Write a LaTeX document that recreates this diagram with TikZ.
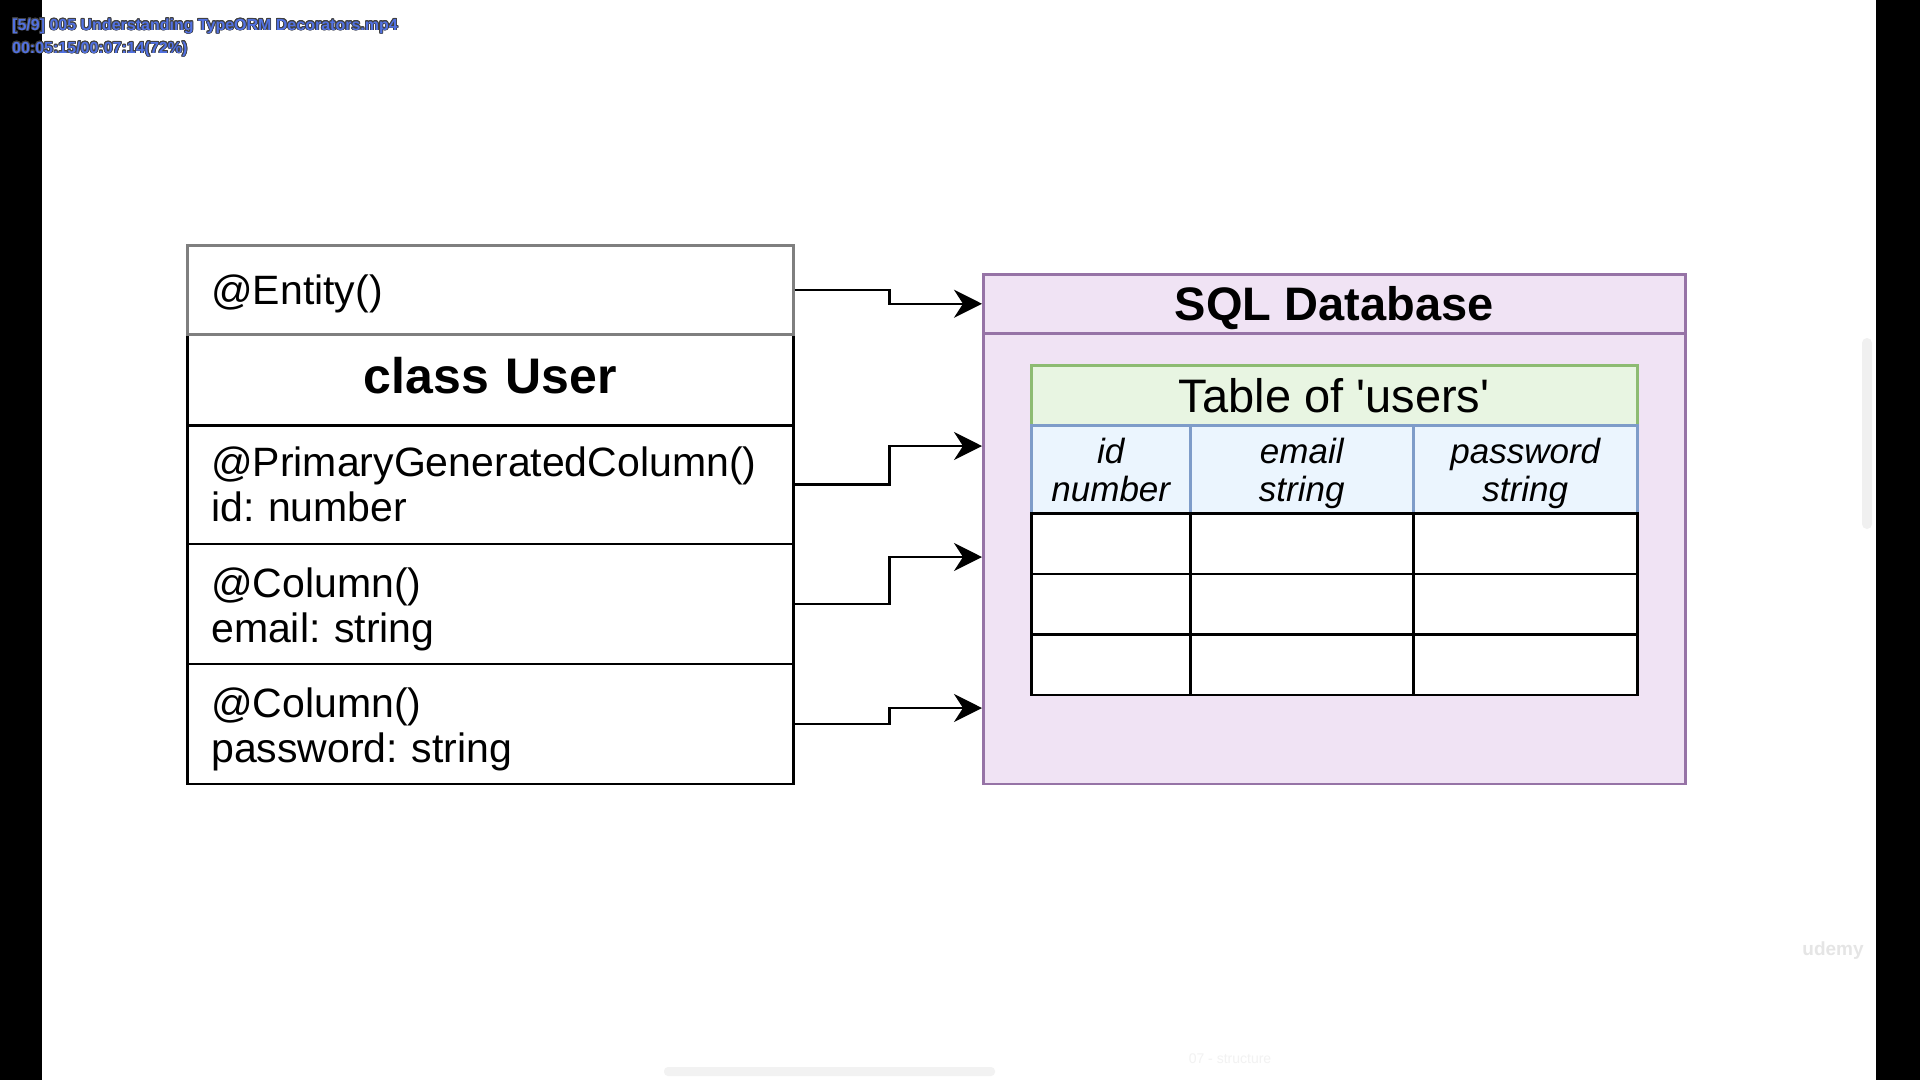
\documentclass[tikz,border=0pt]{standalone}
\usepackage{fontspec}
\setmainfont{Liberation Sans}
\usepackage{contour}
\contourlength{0.8pt}
\usetikzlibrary{arrows.meta, positioning, calc}
\definecolor{CPurpleFill}{HTML}{F0E3F4}
\definecolor{CPurple}{HTML}{9673A6}
\definecolor{CGreenFill}{HTML}{E8F5E2}
\definecolor{CGreen}{HTML}{8DBB72}
\definecolor{CBlueFill}{HTML}{EBF5FE}
\definecolor{CBlue}{HTML}{7E9CC9}
\definecolor{CGrey}{HTML}{7F7F7F}
\definecolor{COverlay}{HTML}{5171E2}
\frenchspacing

% struts to line up the texts in the cells
\newcommand{\rowtop}[1]{\rule{0pt}{#1}}
\newcommand{\rowbot}[1]{\rule[-#1]{0pt}{#1}}

\tikzset{
  row/.style={draw, line width=2.5pt, fill=white, rectangle, anchor=north west, inner sep=0pt,
    minimum width=606pt, text width=558pt, align=left, font=\fontsize{41}{45}\selectfont},
  colhead/.style={draw=CBlue, fill=CBlueFill, line width=2.5pt, anchor=north west, inner sep=0pt,
    minimum height=88pt, align=center, font=\itshape\fontsize{35}{38}\selectfont},
  datacell/.style={draw, line width=2.5pt, fill=white, anchor=north west, inner sep=0pt},
  link/.style={draw, line width=2.5pt, -{Stealth[length=28pt, width=28pt, inset=9pt]}},
  overlay/.style={anchor=base west, inner sep=0pt, text=COverlay, font=\bfseries\fontsize{16}{18}\selectfont},
}

\begin{document}
\begin{tikzpicture}[x=1pt, y=-1pt]
    \useasboundingbox (0,0) rectangle (1920,1080);
    \fill[white] (0,0) rectangle (1920,1080);

    % Class User
    \node[row, minimum height=91pt, align=center, font=\bfseries\fontsize{50}{60}\selectfont] (classname) at (186,333) {class User\rowbot{8pt}};
    \node[row, minimum height=118.5pt] (idrow) at (186,424) {@PrimaryGeneratedColumn()\\id: number};
    \node[row, minimum height=120pt] (emailrow) at (186,542.5) {\rowtop{41pt}@Column()\\email: string};
    \node[row, minimum height=120pt] (pwrow) at (186,662.5) {\rowtop{41pt}@Column()\\password: string};
    \node[row, draw=CGrey, minimum height=89pt] (entity) at (186,244) {\rowtop{37pt}@Entity()};

    % SQL Database
    \node[draw=CPurple, fill=CPurpleFill, line width=2.5pt, anchor=north west, minimum width=702pt, minimum height=509.5pt] (sql) at (982,273) {};
    \node[draw=CPurple, fill=CPurpleFill, line width=2.5pt, anchor=north west, inner sep=0pt, minimum width=702pt, minimum height=59pt,
      font=\bfseries\fontsize{47}{56}\selectfont] (sqlhead) at (982,273) {\rowtop{42pt}SQL Database};

    % Table of users
    \node[draw=CGreen, fill=CGreenFill, line width=2.5pt, anchor=north west, minimum width=606pt, minimum height=60pt,
      font=\fontsize{47}{56}\selectfont] (tabtitle) at (1030,364) {Table of \textquotesingle users\textquotesingle};
    \node[colhead, minimum width=159pt] (colid) at (1030,424) {\rowtop{35.5pt}id\\number\rowbot{9pt}};
    \node[colhead, minimum width=223pt] (colemail) at (1189,424) {\rowtop{35.5pt}email\\string\rowbot{9pt}};
    \node[colhead, minimum width=224pt] (colpw) at (1412,424) {\rowtop{35.5pt}password\\string\rowbot{9pt}};
    \foreach \y in {512,572.5,633} {
        \node[datacell, minimum width=159pt, minimum height=60.5pt] at (1030,\y) {};
        \node[datacell, minimum width=223pt, minimum height=60.5pt] at (1189,\y) {};
        \node[datacell, minimum width=224pt, minimum height=60.5pt] at (1412,\y) {};
    }

    % Arrows
    \coordinate (inid) at (982,446);
    \coordinate (inemail) at (982,557);
    \coordinate (inpw) at (982,708);
    \draw[link] (entity.east) -- ++(95,0) |- (sqlhead.west);
    \draw[link] (idrow.east) -- ++(95,0) |- (inid);
    \draw[link] (emailrow.east) -- ++(95,0) |- (inemail);
    \draw[link] (pwrow.east) -- ++(95,0) |- (inpw);

    % Player frame
    \fill[black] (0,0) rectangle (42,1080);
    \fill[black] (1876,0) rectangle (1920,1080);
    \fill[black!6, rounded corners=5pt] (1862,338) rectangle (1872,529);
    \fill[black!5, rounded corners=4pt] (664,1067) rectangle (995,1076);
    \node[overlay] (title) at (12,30) {\contour{black!75}{[5/9] 005 Understanding TypeORM Decorators.mp4}};
    \node[overlay] (time) at (12,53) {\contour{black!75}{00:05:15/00:07:14(72\%)}};
    \node[text=black!10, font=\bfseries\fontsize{19}{22}\selectfont] (udemy) at (1833,951) {udemy};
    \node[text=black!5, font=\fontsize{14}{16}\selectfont] (chapter) at (1230,1059) {07 - structure};
\end{tikzpicture}
\end{document}
